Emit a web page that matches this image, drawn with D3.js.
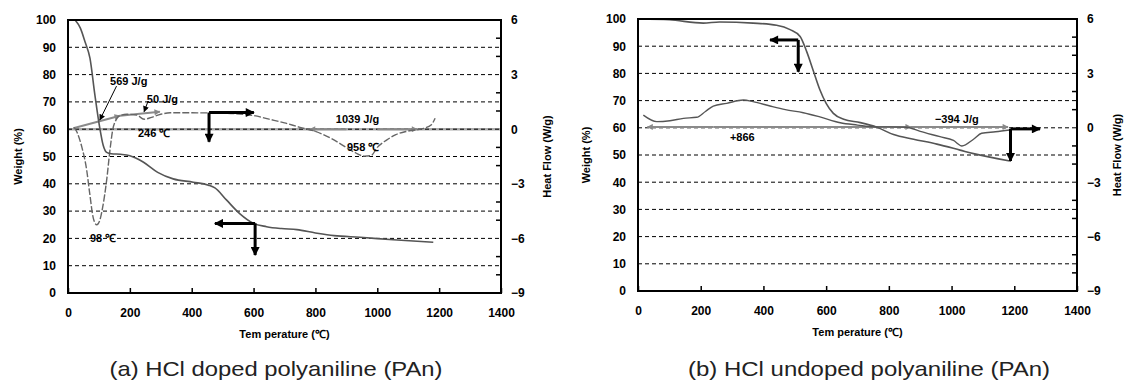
<!DOCTYPE html>
<html>
<head>
<meta charset="utf-8">
<title>TGA / DSC of polyaniline</title>
<script src="https://cdn.jsdelivr.net/npm/d3@7"></script>
<style>
body { margin: 0; background: #fff; }
svg text { font-family: "Liberation Sans", Arial, sans-serif; }
.lab { font-size: 11px; font-weight: bold; fill: #000; }
.caption { font-size: 21px; fill: #222; }
</style>
</head>
<body>
<script>
// ---- ticks ----
var xTicks = [0, 200, 400, 600, 800, 1000, 1200, 1400];
var wtTicks = [0, 10, 20, 30, 40, 50, 60, 70, 80, 90, 100];
var hfTicks = [-9, -6, -3, 0, 3, 6];
var hfMinor = [-8, -7, -5, -4, -2, -1, 1, 2, 4, 5];

// ---- (a) HCl doped ----
var tA_wt = [23, 40, 55, 71, 87, 103, 114, 125, 140, 170, 200, 243, 290, 340, 405, 454, 475, 513, 556, 600, 642, 690, 740, 800, 860, 944, 1052, 1181];
var wA    = [100, 97, 92, 86, 72.5, 60.3, 54, 51.5, 51, 50.8, 50.3, 48, 44.2, 41.8, 40.6, 39.5, 38.5, 34, 29, 25.5, 24.3, 23.6, 23.2, 22, 21, 20.4, 19.5, 18.6];
var tA_hf = [20, 30, 45, 60, 70, 82, 93, 103, 112, 125, 136, 145, 155, 168, 190, 222, 246, 270, 300, 330, 400, 500, 600, 650, 700, 750, 800, 850, 900, 930, 958, 980, 1000, 1030, 1060, 1100, 1150, 1175, 1187];
var hA    = [0.1, -0.2, -1.0, -2.2, -3.5, -4.9, -5.25, -5.0, -4.3, -2.8, -1.1, 0.0, 0.5, 0.75, 0.82, 0.78, 0.55, 0.65, 0.82, 0.9, 0.9, 0.88, 0.75, 0.55, 0.35, 0.1, -0.12, -0.5, -1.0, -1.3, -1.48, -1.45, -1.0, -0.6, -0.3, -0.1, 0.05, 0.25, 0.6];

// ---- (b) HCl undoped ----
var tB_wt = [6, 100, 208, 260, 367, 442, 485, 517, 538, 559, 580, 600, 623, 656, 709, 762, 815, 879, 953, 1027, 1070, 1186];
var wB    = [100, 99.7, 98.5, 98.9, 98.5, 97.7, 96.1, 93.6, 88, 81, 74, 69, 65.3, 63.1, 61.9, 60.2, 57.5, 55.8, 54, 51.8, 50.5, 47.8];
var tB_hf = [17, 60, 102, 145, 187, 215, 240, 283, 336, 367, 421, 470, 527, 580, 645, 700, 751, 800, 857, 900, 963, 1006, 1033, 1070, 1096, 1140, 1186];
var hB    = [0.7, 0.34, 0.39, 0.52, 0.58, 0.9, 1.2, 1.35, 1.53, 1.44, 1.2, 1.0, 0.83, 0.6, 0.28, 0.15, 0.05, 0.05, 0.03, -0.2, -0.49, -0.7, -1.0, -0.63, -0.3, -0.22, -0.12];

// ---- annotations: [T, weight %, text] ----
var labelsA = [[136, 76.2, "569 J/g"], [255, 69.6, "50 J/g"], [226, 57.1, "246 \u2103"],
               [866, 62.3, "1039 J/g"], [902, 52, "958 \u2103"], [71, 18.7, "98 \u2103"]];
var labelsB = [[293, 55.1, "+866"], [947, 61.6, "\u2212394 J/g"]];
// leader lines [T0, W0, T1, W1]
var leadersA = [[157, 75.8, 103, 63.4], [259, 70.3, 246, 66.4]];
// gray integration baselines, in heat flow units [T, HF]
var baseA = [[[17, 0.05], [168, 0.74]], [[168, 0.74], [297, 0.96]], [[900, 0], [782, 0]], [[1000, 0], [1129, 0]]];
var baseB = [[[240, 0.05], [30, 0.05]], [[240, 0.05], [870, 0.05]], [[870, 0.05], [1180, 0.05]]];
// black direction arrows: corner [T, W], horizontal end T, vertical end W
var arrowsA = [[456, 66.1, 601, 55.4], [605, 25.5, 475, 13.9]];
var arrowsB = [[511, 92.3, 421, 80.6], [1188, 59.6, 1282, 47.8]];

var svg = d3.select("body").append("svg")
    .attr("width", 1124).attr("height", 383);

var defs = svg.append("defs");
function marker(id, w, h, col) {
  defs.append("marker").attr("id", id)
      .attr("viewBox", "0 0 10 10").attr("refX", 9).attr("refY", 5)
      .attr("markerUnits", "userSpaceOnUse")
      .attr("markerWidth", w).attr("markerHeight", h)
      .attr("orient", "auto")
    .append("path").attr("d", "M0,0 L10,5 L0,10 z").attr("fill", col);
}
marker("ahBlack", 10, 9, "#000");
marker("ahGray", 8, 6, "#888");
marker("ahThin", 7, 6, "#000");

function panel(p) {
  var x = d3.scaleLinear().domain([0, 1400]).range([p.left, p.right]);
  var yW = d3.scaleLinear().domain([0, 100]).range([p.bottom, p.top]);
  var yH = d3.scaleLinear().domain([-9, 6]).range([p.bottom, p.top]);
  var g = svg.append("g");

  if (p.zeroLine) {
    g.append("line").attr("x1", p.left).attr("x2", p.right)
      .attr("y1", yH(0)).attr("y2", yH(0))
      .attr("stroke", "#aaa").attr("stroke-width", 2.5);
  }

  g.selectAll(".grid").data(wtTicks.slice(1, -1)).enter().append("line")
      .attr("x1", p.left).attr("x2", p.right)
      .attr("y1", function(d) { return yW(d); }).attr("y2", function(d) { return yW(d); })
      .attr("stroke", "#000").attr("stroke-width", 1).attr("stroke-dasharray", "4,3");

  // integration baselines
  g.selectAll(".base").data(p.base).enter().append("line")
      .attr("x1", function(d) { return x(d[0][0]); }).attr("y1", function(d) { return yH(d[0][1]); })
      .attr("x2", function(d) { return x(d[1][0]); }).attr("y2", function(d) { return yH(d[1][1]); })
      .attr("stroke", "#8a8a8a").attr("stroke-width", 2).attr("marker-end", "url(#ahGray)");

  var lineW = d3.line().x(function(d) { return x(d[0]); }).y(function(d) { return yW(d[1]); }).curve(d3.curveMonotoneX);
  var lineH = d3.line().x(function(d) { return x(d[0]); }).y(function(d) { return yH(d[1]); }).curve(d3.curveMonotoneX);

  g.append("path").datum(d3.zip(p.tHf, p.hf)).attr("d", lineH)
      .attr("fill", "none").attr("stroke", p.hfColor).attr("stroke-width", 1.4)
      .attr("stroke-dasharray", p.hfDash);
  g.append("path").datum(d3.zip(p.tWt, p.wt)).attr("d", lineW)
      .attr("fill", "none").attr("stroke", "#555").attr("stroke-width", 1.6);

  g.selectAll(".lead").data(p.leaders).enter().append("line")
      .attr("x1", function(d) { return x(d[0]); }).attr("y1", function(d) { return yW(d[1]); })
      .attr("x2", function(d) { return x(d[2]); }).attr("y2", function(d) { return yW(d[3]); })
      .attr("stroke", "#000").attr("stroke-width", 1).attr("marker-end", "url(#ahThin)");

  p.arrows.forEach(function(a) {
    g.append("line").attr("x1", x(a[0])).attr("y1", yW(a[1])).attr("x2", x(a[2])).attr("y2", yW(a[1]))
      .attr("stroke", "#000").attr("stroke-width", 3).attr("marker-end", "url(#ahBlack)");
    g.append("line").attr("x1", x(a[0])).attr("y1", yW(a[1])).attr("x2", x(a[0])).attr("y2", yW(a[3]))
      .attr("stroke", "#000").attr("stroke-width", 3).attr("marker-end", "url(#ahBlack)");
  });

  g.selectAll(".ann").data(p.labels).enter().append("text").attr("class", "lab")
      .attr("x", function(d) { return x(d[0]); }).attr("y", function(d) { return yW(d[1]); })
      .text(function(d) { return d[2]; });

  // frame
  g.append("rect").attr("x", p.left).attr("y", p.top)
      .attr("width", p.right - p.left).attr("height", p.bottom - p.top)
      .attr("fill", "none").attr("stroke", "#000").attr("stroke-width", 2);

  function style(s) {
    s.select(".domain").remove();
    s.attr("font-size", 12).attr("font-weight", "bold")
     .attr("font-family", "'Liberation Sans', Arial, sans-serif");
    s.selectAll("line").attr("stroke", "#000").attr("stroke-width", 1.5);
  }
  g.append("g").attr("transform", "translate(0," + p.bottom + ")")
      .call(d3.axisBottom(x).tickValues(xTicks).tickFormat(d3.format("d")).tickSize(-5).tickPadding(15)).call(style);
  g.append("g").attr("transform", "translate(" + p.left + ",0)")
      .call(d3.axisLeft(yW).tickValues(wtTicks).tickSize(0).tickPadding(12)).call(style);
  g.append("g").attr("transform", "translate(" + p.right + ",0)")
      .call(d3.axisRight(yH).tickValues(hfTicks).tickSize(0).tickPadding(10)).call(style);
  g.selectAll(".minor").data(hfMinor).enter().append("line")
      .attr("x1", p.right - 5).attr("x2", p.right)
      .attr("y1", function(d) { return yH(d); }).attr("y2", function(d) { return yH(d); })
      .attr("stroke", "#000").attr("stroke-width", 1.5);

  var mid = (p.top + p.bottom) / 2;
  g.append("text").attr("class", "lab").attr("text-anchor", "middle")
      .attr("x", (p.left + p.right) / 2).attr("y", p.bottom + 45)
      .text("Tem perature (\u2103)");
  g.append("text").attr("class", "lab").attr("text-anchor", "middle")
      .attr("transform", "translate(" + p.wLabX + "," + mid + ") rotate(-90)")
      .text("Weight (%)");
  g.append("text").attr("class", "lab").attr("text-anchor", "middle")
      .attr("transform", "translate(" + p.hLabX + "," + mid + ") rotate(-90)")
      .text("Heat Flow (W/g)");
  g.append("text").attr("class", "caption").attr("text-anchor", "middle")
      .attr("x", p.capX).attr("y", 376)
      .attr("textLength", p.capW).attr("lengthAdjust", "spacingAndGlyphs")
      .text(p.caption);
}

panel({left: 68, right: 501, top: 20, bottom: 293,
       tWt: tA_wt, wt: wA, tHf: tA_hf, hf: hA, hfColor: "#666", hfDash: "7,2",
       labels: labelsA, leaders: leadersA, base: baseA, arrows: arrowsA, zeroLine: true,
       wLabX: 22, hLabX: 551,
       caption: "(a) HCl doped polyaniline (PAn)", capX: 276, capW: 333});
panel({left: 638, right: 1077, top: 19, bottom: 291,
       tWt: tB_wt, wt: wB, tHf: tB_hf, hf: hB, hfColor: "#555", hfDash: null,
       labels: labelsB, leaders: [], base: baseB, arrows: arrowsB, zeroLine: false,
       wLabX: 590, hLabX: 1121,
       caption: "(b) HCl undoped polyaniline (PAn)", capX: 869, capW: 362});
</script>
</body>
</html>
